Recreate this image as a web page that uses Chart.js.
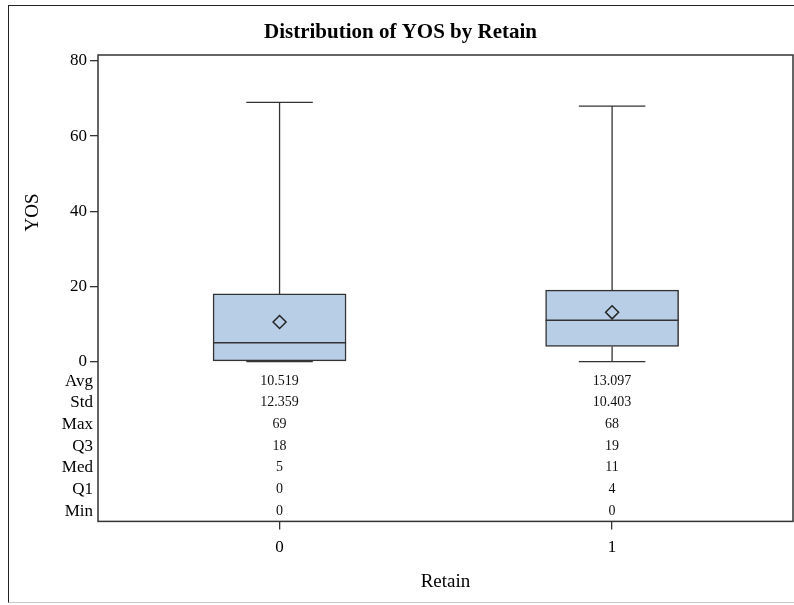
<!DOCTYPE html>
<html>
<head>
<meta charset="utf-8">
<script src="https://cdn.jsdelivr.net/npm/chart.js@4/dist/chart.umd.min.js"></script>
<style>
  html, body { margin: 0; padding: 0; background: #fff; overflow: hidden; }
  #wrap { position: relative; width: 794px; height: 605px; }
  #frame { position: absolute; left: 8px; top: 5px; width: 800px; height: 598px;
           border-left: 1.5px solid #222; border-top: 1.5px solid #222;
           border-bottom: 1px solid #c8c8c8; box-sizing: border-box; }
  canvas { position: absolute; left: 0; top: 0; }
</style>
</head>
<body>
<div id="wrap">
  <div id="frame"></div>
  <canvas id="c" width="794" height="605"></canvas>
</div>
<script>
// Retain groups and YOS summary statistics
const categories = ['0', '1'];
const statLabels = ['Avg', 'Std', 'Max', 'Q3', 'Med', 'Q1', 'Min'];
const yosAvg = [10.519, 13.097];
const yosStd = [12.359, 10.403];
const yosMax = [69, 68];
const yosQ3  = [18, 19];
const yosMed = [5, 11];
const yosQ1  = [0, 4];
const yosMin = [0, 0];
const yTicks = [0, 20, 40, 60, 80];

// box / cap half widths in category units
const BOX_HALF = 0.2;
const CAP_HALF = 0.1;

const SERIF = "'Liberation Serif', 'Times New Roman', serif";
const INK = '#333333';

function brokenPath(pairs) {
  const pts = [];
  pairs.forEach(([a, b]) => { pts.push(a, b, { x: a.x, y: null }); });
  return pts;
}

const whiskerPairs = [];
const medianPairs = [];
categories.forEach((c, i) => {
  whiskerPairs.push([{ x: i, y: yosQ3[i] }, { x: i, y: yosMax[i] }]);
  whiskerPairs.push([{ x: i, y: yosQ1[i] }, { x: i, y: yosMin[i] }]);
  whiskerPairs.push([{ x: i - CAP_HALF, y: yosMax[i] }, { x: i + CAP_HALF, y: yosMax[i] }]);
  whiskerPairs.push([{ x: i - CAP_HALF, y: yosMin[i] }, { x: i + CAP_HALF, y: yosMin[i] }]);
  medianPairs.push([{ x: i - BOX_HALF, y: yosMed[i] }, { x: i + BOX_HALF, y: yosMed[i] }]);
});

const statRows = [
  yosAvg.map(v => v.toFixed(3)),
  yosStd.map(v => v.toFixed(3)),
  yosMax.map(String),
  yosQ3.map(String),
  yosMed.map(String),
  yosQ1.map(String),
  yosMin.map(String)
];

// plot frame around the whole chart area
const framePlugin = {
  id: 'plotFrame',
  afterDraw(chart) {
    const { ctx, chartArea: a } = chart;
    ctx.save();
    ctx.strokeStyle = INK;
    ctx.lineWidth = 1.5;
    ctx.strokeRect(a.left, a.top, a.right - a.left, a.bottom - a.top);
    ctx.restore();
  }
};

// statistics table under the boxes
const statTablePlugin = {
  id: 'statTable',
  afterDatasetsDraw(chart) {
    const { ctx, scales } = chart;
    ctx.save();
    ctx.font = '14px ' + SERIF;
    ctx.fillStyle = '#111';
    ctx.textAlign = 'center';
    ctx.textBaseline = 'middle';
    statRows.forEach((row, r) => {
      const y = scales.tbl.getPixelForValue(r);
      row.forEach((txt, i) => {
        ctx.fillText(txt, scales.x.getPixelForValue(i), y);
      });
    });
    ctx.restore();
  }
};

new Chart(document.getElementById('c'), {
  data: {
    datasets: [
      {
        type: 'scatter',
        label: 'Mean',
        data: categories.map((c, i) => ({ x: i, y: yosAvg[i] })),
        pointStyle: 'rectRot',
        pointRadius: 6.5,
        pointBorderWidth: 1.5,
        pointBorderColor: '#222',
        pointBackgroundColor: 'rgba(0,0,0,0)',
        order: 0
      },
      {
        type: 'line',
        label: 'Median',
        data: brokenPath(medianPairs),
        borderColor: INK,
        borderWidth: 1.5,
        pointRadius: 0,
        spanGaps: false,
        order: 1
      },
      {
        type: 'line',
        label: 'Whiskers',
        data: brokenPath(whiskerPairs),
        borderColor: INK,
        borderWidth: 1.3,
        pointRadius: 0,
        spanGaps: false,
        order: 1
      },
      {
        type: 'bar',
        label: 'IQR',
        data: categories.map((c, i) => ({ x: i, y: [yosQ1[i], yosQ3[i]] })),
        backgroundColor: '#b8cee6',
        borderColor: INK,
        borderWidth: 1.5,
        borderSkipped: false,
        barThickness: 133,
        order: 2
      }
    ]
  },
  options: {
    responsive: false,
    animation: false,
    layout: { autoPadding: false, padding: { left: 8, right: 1, top: 0, bottom: 0 } },
    plugins: {
      legend: { display: false },
      tooltip: { enabled: false },
      title: {
        display: true,
        text: 'Distribution of YOS by Retain',
        color: '#000',
        font: { family: SERIF, size: 21, weight: 'bold' },
        padding: { top: 20, bottom: 9.8 }
      }
    },
    scales: {
      x: {
        type: 'linear',
        offset: false,
        min: -0.546,
        max: 1.544,
        afterBuildTicks: s => { s.ticks = categories.map((c, i) => ({ value: i })); },
        ticks: {
          color: '#000',
          font: { family: SERIF, size: 17 },
          padding: 8.2,
          callback: v => categories[v]
        },
        grid: { offset: false, drawOnChartArea: false, drawTicks: true, tickLength: 8, color: INK, lineWidth: 1.3 },
        border: { display: false },
        title: {
          display: true,
          text: 'Retain',
          color: '#000',
          font: { family: SERIF, size: 19 },
          padding: { top: 4.4, bottom: 11.6 }
        }
      },
      y: {
        type: 'linear',
        position: 'left',
        stack: 'left',
        stackWeight: 314.25,
        weight: 1,
        min: -2.2,
        max: 81.6,
        afterBuildTicks: s => { s.ticks = yTicks.map(v => ({ value: v })); },
        afterFit: s => { s.width = 90; },
        ticks: { color: '#000', font: { family: SERIF, size: 17 }, padding: 3 },
        grid: { drawOnChartArea: false, drawTicks: true, tickLength: 8, color: INK, lineWidth: 1.3 },
        border: { display: false },
        title: {
          display: true,
          text: 'YOS',
          color: '#000',
          font: { family: SERIF, size: 19 },
          padding: { top: 13.6, bottom: 0 }
        }
      },
      tbl: {
        type: 'linear',
        position: 'left',
        stack: 'left',
        stackWeight: 151.35,
        weight: 0,
        reverse: true,
        min: -0.519,
        max: 6.47,
        afterBuildTicks: s => { s.ticks = statLabels.map((l, i) => ({ value: i })); },
        afterFit: s => { s.width = 90; },
        ticks: {
          color: '#000',
          font: { family: SERIF, size: 17 },
          padding: 5,
          autoSkip: false,
          callback: v => statLabels[v]
        },
        grid: { display: false, drawTicks: false },
        border: { display: false }
      }
    }
  },
  plugins: [framePlugin, statTablePlugin]
});
</script>
</body>
</html>
